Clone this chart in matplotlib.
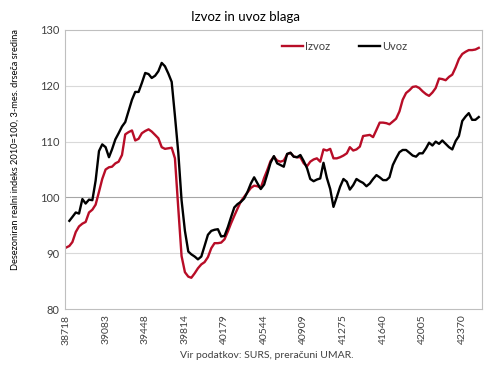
import matplotlib
matplotlib.use('Agg')
import matplotlib.pyplot as plt
import numpy as np
import pandas as pd

# monthly data, Jan 2006 - Jun 2016 (x axis in Excel date serials)
months = pd.date_range("2006-01-01", periods=126, freq="MS")
serial = np.array([(d - pd.Timestamp("1899-12-30")).days for d in months])

izvoz = [
    91.0, 91.3, 92.0, 93.8, 94.8, 95.3, 95.6, 97.3, 97.8, 98.7, 101.0, 103.3,
    105.0, 105.4, 105.5, 106.1, 106.4, 107.6, 111.3, 111.7, 112.0, 110.2, 110.5, 111.5,
    111.9, 112.2, 111.8, 111.2, 110.6, 109.0, 108.7, 108.8, 108.9, 107.0, 98.0, 89.5,
    86.6, 85.8, 85.6, 86.4, 87.3, 88.0, 88.4, 89.3, 90.9, 91.8, 91.8, 91.9,
    92.5, 93.9, 95.3, 96.7, 98.0, 99.3, 100.1, 100.9, 101.7, 102.1, 102.0, 101.7,
    103.5, 105.0, 106.5, 107.3, 106.6, 106.4, 106.6, 107.7, 108.0, 107.3, 107.2, 107.2,
    106.1, 105.6, 106.4, 106.8, 107.0, 106.4, 108.6, 108.4, 108.7, 107.0, 107.0, 107.2,
    107.5, 107.9, 109.0, 108.4, 108.6, 109.1, 111.0, 111.1, 111.2, 110.8, 112.1, 113.4,
    113.4, 113.3, 113.1, 113.6, 114.1, 115.4, 117.5, 118.7, 119.2, 119.8, 119.9, 119.6,
    119.0, 118.5, 118.2, 118.8, 119.6, 121.3, 121.2, 121.0, 121.6, 122.0, 123.3, 124.8,
    125.7, 126.1, 126.4, 126.4, 126.5, 126.8,
]
uvoz = [
    np.nan, 95.8, 96.5, 97.3, 97.1, 99.7, 98.9, 99.6, 99.5, 103.0, 108.3, 109.5,
    109.0, 107.2, 108.6, 110.4, 111.5, 112.7, 113.5, 115.5, 117.5, 118.9, 118.9, 120.5,
    122.3, 122.1, 121.4, 121.8, 122.6, 124.1, 123.5, 122.2, 120.7, 114.6, 108.0, 99.5,
    94.0, 90.3, 89.8, 89.4, 88.9, 89.4, 91.3, 93.3, 94.0, 94.2, 94.3, 93.0,
    93.1, 94.7, 96.4, 98.2, 98.8, 99.2, 99.8, 101.0, 102.5, 103.6, 102.5, 101.5,
    102.3, 104.3, 106.2, 107.4, 106.1, 105.8, 105.5, 107.8, 108.0, 107.3, 107.2, 107.6,
    106.5, 105.2, 103.3, 102.9, 103.2, 103.4, 106.2, 103.5, 101.5, 98.3, 100.1, 101.9,
    103.3, 102.8, 101.4, 102.2, 103.3, 102.9, 102.6, 102.0, 102.5, 103.3, 104.0, 103.6,
    103.1, 103.1, 103.6, 105.8, 107.0, 108.1, 108.5, 108.5, 108.0, 107.5, 107.3, 107.9,
    107.9, 108.8, 109.8, 109.3, 110.0, 109.6, 110.2, 109.6, 109.0, 108.6, 110.1, 111.0,
    113.7, 114.5, 115.1, 113.9, 113.9, 114.4,
]
xticks = [38718, 39083, 39448, 39814, 40179, 40544, 40909, 41275, 41640, 42005, 42370]
yticks = [80, 90, 100, 110, 120, 130]

plt.rcParams['font.family'] = ['Lato', 'DejaVu Sans']
txt = "#404040"

fig = plt.figure(figsize=(4.9, 3.68), dpi=100, facecolor="white")
ax = fig.add_axes([0.1327, 0.1603, 0.851, 0.7582])

for y in [90, 110, 120]:
    ax.axhline(y, color="#d9d9d9", lw=0.8, zorder=0)
ax.axhline(100, color="#a6a6a6", lw=0.8, zorder=0)

ax.plot(serial, izvoz, color="#b80d27", lw=1.7, label="Izvoz")
ax.plot(serial, uvoz, color="black", lw=1.7, label="Uvoz")

ax.set_xlim(38709, 42552)
ax.set_ylim(80, 130)
ax.set_xticks(xticks)
ax.set_xticklabels([str(t) for t in xticks], rotation=90, fontsize=7.5, color=txt)
ax.set_yticks(yticks)
ax.set_yticklabels([str(t) for t in yticks], fontsize=8, color=txt)
ax.tick_params(length=0, pad=4)
for s in ax.spines.values():
    s.set_color("#bfbfbf")
    s.set_linewidth(0.8)

ax.legend(loc="upper left", bbox_to_anchor=(0.52, 0.96), ncol=2, frameon=False,
          fontsize=8, handlelength=1.9, handletextpad=0.2, columnspacing=2.6,
          borderpad=0, borderaxespad=0, labelcolor=txt)

fig.text(0.5, 0.955, "Izvoz in uvoz blaga", ha="center", va="center", fontsize=9.5, color="black")
fig.text(0.03, 0.595, "Desezoniran realni indeks 2010=100, 3-mes. drseča sredina",
         rotation=90, ha="center", va="center", fontsize=6.7, color="black")
fig.text(0.545, 0.035, "Vir podatkov: SURS, preračuni UMAR.", ha="center", va="center",
         fontsize=7.5, color=txt)

plt.savefig("out.png", dpi=100, facecolor="white")
